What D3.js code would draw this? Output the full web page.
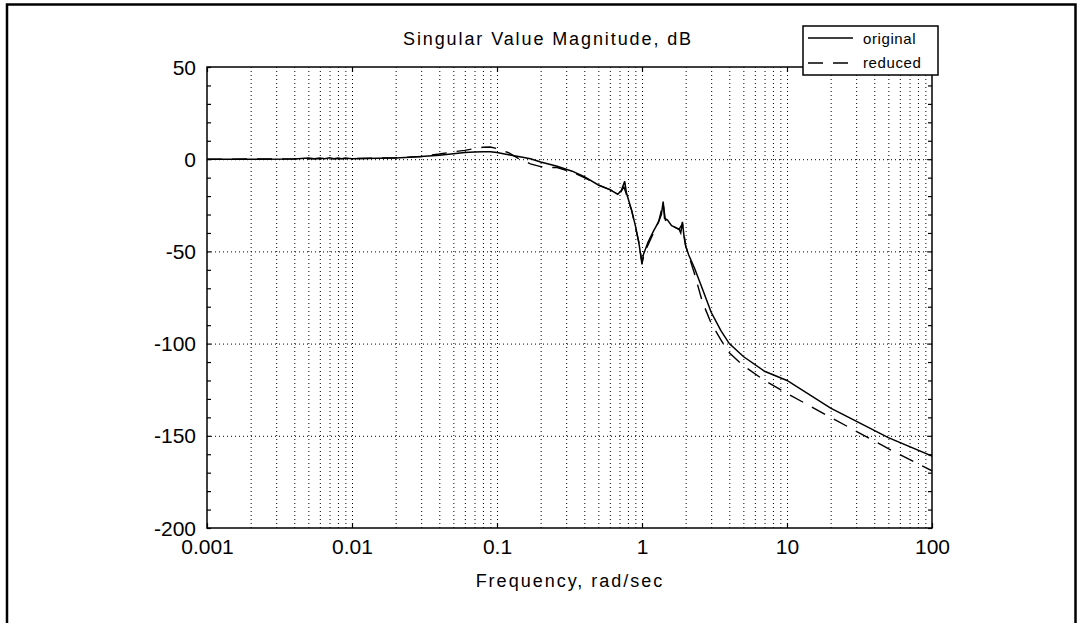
<!DOCTYPE html>
<html>
<head>
<meta charset="utf-8">
<script src="https://d3js.org/d3.v7.min.js"></script>
<style>
  body { margin: 0; background: #fff; }
  text { font-family: "Liberation Sans", Arial, sans-serif; fill: #000; }
  .grid line { stroke: #000; stroke-width: 1; stroke-dasharray: 1,3; }
  .grid path { display: none; }
  .ticks line { stroke: #000; stroke-width: 1.2; }
  .ticks path { display: none; }
  .labels path, .labels line { display: none; }
</style>
</head>
<body>
<script>

// original model: frequency (rad/sec) and singular value (dB)
var origFreq = [0.001, 0.002, 0.004, 0.005, 0.0055, 0.006, 0.0065, 0.007, 0.0075, 0.008, 0.0085, 0.009, 0.01,
  0.012, 0.015, 0.02, 0.025, 0.03, 0.04, 0.05, 0.06, 0.07, 0.08, 0.09, 0.1, 0.12, 0.15, 0.17, 0.2, 0.26,
  0.33, 0.4, 0.5, 0.6, 0.68, 0.72, 0.76, 0.78, 0.8, 0.85, 0.9, 0.95, 1.0, 1.02, 1.1, 1.2, 1.3, 1.36, 1.4,
  1.43, 1.5, 1.6, 1.7, 1.8, 1.85, 1.9, 1.95, 2.0, 2.1, 2.3, 2.6, 3.0, 3.5, 4.0, 5.0, 7.0, 10, 20, 50, 100];
var origMag = [0, 0, 0.1, 0.6, 0.2, 0.7, 0.3, 0.8, 0.3, 0.7, 0.2, 0.6, 0.3,
  0.4, 0.5, 0.7, 1.0, 1.4, 2.2, 3.0, 3.6, 3.9, 4.1, 4.0, 3.6, 2.4, 1.0, 0.2, -1.5, -3.8,
  -6.5, -9.5, -14, -16.5, -19, -17, -12, -18, -21, -28, -36, -45, -57, -52, -45, -39, -34, -30, -23,
  -32, -33, -36, -37, -38, -40, -34, -42, -47, -52, -59, -70, -83, -93, -100, -107, -115, -120, -135, -151, -161];

// reduced model
var redFreq = [0.001, 0.01, 0.02, 0.03, 0.04, 0.05, 0.06, 0.07, 0.08, 0.09, 0.1, 0.12, 0.14, 0.17, 0.2,
  0.23, 0.26, 0.33, 0.4, 0.5, 0.6, 0.7, 0.75, 0.78, 0.85, 0.95, 1.0, 1.05, 1.2, 1.3, 1.4, 1.45, 1.6,
  1.8, 1.9, 2.0, 2.3, 2.6, 3.0, 3.5, 4.0, 5.0, 7.0, 10, 20, 50, 100];
var redMag = [0, 0.3, 0.8, 1.5, 2.8, 4.0, 4.8, 5.8, 6.5, 6.6, 5.8, 3.5, 0.5, -2.5, -4,
  -4.5, -4.5, -7, -10, -14, -16.5, -19, -15, -19, -28, -45, -56, -50, -40, -34, -24, -33, -36,
  -38, -35, -47, -62, -77, -89, -98, -105, -112, -120, -127, -140, -157, -169];

var xTickVals = [0.001, 0.01, 0.1, 1, 10, 100];
var xTickLabels = ["0.001", "0.01", "0.1", "1", "10", "100"];
var yTickVals = [-200, -150, -100, -50, 0, 50];
var yTickLabels = ["-200", "-150", "-100", "-50", "0", "50"];
var legendNames = ["original", "reduced"];

// set the dimensions and margins of the graph
var margin = {top: 67, right: 154, bottom: 95, left: 207},
    width = 1086 - margin.left - margin.right,
    height = 623 - margin.top - margin.bottom;

var x = d3.scaleLog().domain([0.001, 100]).range([0, width]);
var y = d3.scaleLinear().domain([-200, 50]).range([height, 0]);

var svgRoot = d3.select("body").append("svg")
    .attr("width", 1086)
    .attr("height", 623);

// outer frame of the figure window
svgRoot.append("rect")
    .attr("x", 7).attr("y", 4.5)
    .attr("width", 1068.5).attr("height", 640)
    .attr("fill", "none")
    .attr("stroke", "#000")
    .attr("stroke-width", 2.5);

var svg = svgRoot.append("g")
    .attr("transform", "translate(" + margin.left + "," + margin.top + ")");

// grid positions: 1..9 in each decade (inner ones only)
var xGrid = [];
for (var p = -3; p < 2; p++) {
  for (var k = 1; k < 10; k++) {
    var v = k * Math.pow(10, p);
    if (v > 0.0011) xGrid.push(v);
  }
}

svg.append("g")
    .attr("class", "grid")
    .attr("transform", "translate(0," + height + ")")
    .call(d3.axisBottom(x).tickValues(xGrid).tickSize(-height).tickFormat(""));

svg.append("g")
    .attr("class", "grid")
    .call(d3.axisLeft(y).tickValues([-150, -100, -50, 0]).tickSize(-width).tickFormat(""));

// minor ticks on left / right, major ticks on top / bottom, pointing inward
var yMinor = d3.range(-200, 51, 10);
svg.append("g").attr("class", "ticks")
    .call(d3.axisLeft(y).tickValues(yMinor).tickSize(-4).tickFormat(""));
svg.append("g").attr("class", "ticks")
    .attr("transform", "translate(" + width + ",0)")
    .call(d3.axisRight(y).tickValues(yMinor).tickSize(-4).tickFormat(""));
svg.append("g").attr("class", "ticks")
    .attr("transform", "translate(0," + height + ")")
    .call(d3.axisBottom(x).tickValues(xTickVals).tickSize(-5).tickFormat(""));
svg.append("g").attr("class", "ticks")
    .call(d3.axisTop(x).tickValues(xTickVals).tickSize(-5).tickFormat(""));

// tick labels
var yLab = svg.append("g").attr("class", "labels")
    .call(d3.axisLeft(y).tickValues(yTickVals).tickSize(0).tickPadding(11)
      .tickFormat(function(d, i) { return yTickLabels[i]; }));
yLab.selectAll("text")
    .attr("dy", null)
    .attr("y", 7)
    .style("font-size", "21px")
    .style("font-family", "Liberation Sans, Arial, sans-serif");

var xLab = svg.append("g").attr("class", "labels")
    .attr("transform", "translate(0," + height + ")")
    .call(d3.axisBottom(x).tickValues(xTickVals).tickSize(0).tickPadding(0)
      .tickFormat(function(d, i) { return xTickLabels[i]; }));
xLab.selectAll("text")
    .attr("dy", null)
    .attr("y", 26)
    .style("font-size", "21px")
    .style("font-family", "Liberation Sans, Arial, sans-serif");

// the curves
svg.append("clipPath").attr("id", "clip")
  .append("rect").attr("width", width).attr("height", height);

var line = d3.line()
    .x(function(d) { return x(d[0]); })
    .y(function(d) { return y(d[1]); });

var origData = d3.zip(origFreq, origMag);
var redData = d3.zip(redFreq, redMag);

svg.append("path")
    .datum(redData)
    .attr("clip-path", "url(#clip)")
    .attr("fill", "none")
    .attr("stroke", "#000")
    .attr("stroke-width", 1.4)
    .attr("stroke-dasharray", "15,10")
    .attr("d", line);

svg.append("path")
    .datum(origData)
    .attr("clip-path", "url(#clip)")
    .attr("fill", "none")
    .attr("stroke", "#000")
    .attr("stroke-width", 1.5)
    .attr("d", line);

// axes box
svg.append("rect")
    .attr("width", width)
    .attr("height", height)
    .attr("fill", "none")
    .attr("stroke", "#000")
    .attr("stroke-width", 1.5);

// title and x label
svgRoot.append("text")
    .attr("x", 548).attr("y", 45)
    .attr("text-anchor", "middle")
    .style("font-size", "18px")
    .style("letter-spacing", "1.9px")
    .text("Singular Value Magnitude, dB");

svgRoot.append("text")
    .attr("x", 570).attr("y", 587)
    .attr("text-anchor", "middle")
    .style("font-size", "18px")
    .style("letter-spacing", "2px")
    .text("Frequency, rad/sec");

// legend
var legend = svgRoot.append("g").attr("transform", "translate(803,26)");
legend.append("rect")
    .attr("width", 135).attr("height", 49)
    .attr("fill", "#fff")
    .attr("stroke", "#000")
    .attr("stroke-width", 1.5);

legendNames.forEach(function(name, i) {
  legend.append("line")
      .attr("x1", 5).attr("x2", 50)
      .attr("y1", 12 + i * 25).attr("y2", 12 + i * 25)
      .attr("stroke", "#000")
      .attr("stroke-width", 1.4)
      .attr("stroke-dasharray", i == 1 ? "15,10" : null);
  legend.append("text")
      .attr("x", 60).attr("y", 18 + i * 24)
      .style("font-size", "15px")
      .style("letter-spacing", "0.6px")
      .text(name);
});

</script>
</body>
</html>
